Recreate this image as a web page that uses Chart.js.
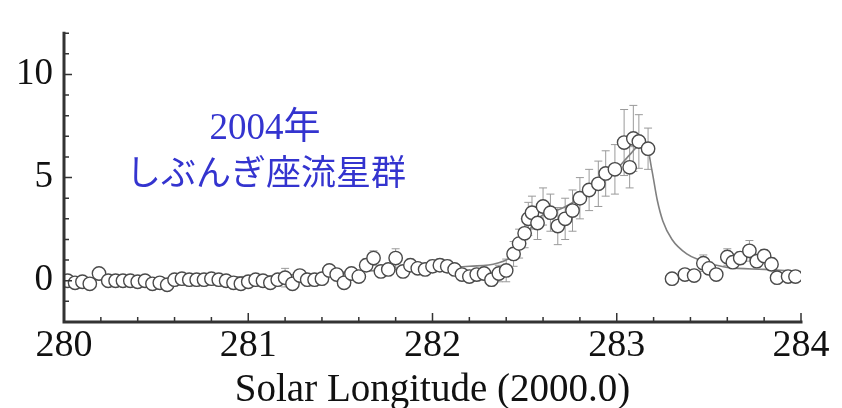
<!DOCTYPE html>
<html>
<head>
<meta charset="utf-8">
<script src="https://cdn.jsdelivr.net/npm/chart.js@4/dist/chart.umd.min.js"></script>
<style>
  html, body { margin: 0; padding: 0; background: #fff; }
  #wrap { width: 842px; height: 408px; position: relative; }
</style>
</head>
<body>
<div id="wrap"><canvas id="c"></canvas></div>
<script>
// Quadrantid meteor activity, 2004: observed rate per solar longitude bin
const solarLongitude = [
  280.02, 280.06, 280.10, 280.14, 280.19, 280.24, 280.28, 280.32, 280.36, 280.40,
  280.44, 280.48, 280.52, 280.56, 280.60, 280.64, 280.68, 280.72, 280.76, 280.80,
  280.84, 280.88, 280.92, 280.96, 281.00, 281.04, 281.08, 281.12, 281.16, 281.20,
  281.24, 281.28, 281.32, 281.36, 281.40, 281.44, 281.48, 281.52, 281.56, 281.60,
  281.64, 281.68, 281.72, 281.76, 281.80, 281.84, 281.88, 281.92, 281.96, 282.00,
  282.04, 282.08, 282.12, 282.16, 282.20, 282.24, 282.28, 282.32, 282.36, 282.40,
  282.44, 282.47, 282.50, 282.52, 282.54, 282.57, 282.60, 282.64, 282.68, 282.72,
  282.76, 282.80, 282.85, 282.90, 282.94, 282.99, 283.04, 283.07, 283.09, 283.12,
  283.17,
  283.30, 283.37, 283.42, 283.47, 283.50, 283.54, 283.60, 283.63, 283.67, 283.72,
  283.76, 283.80, 283.84, 283.87, 283.93, 283.97
];
const rate = [
  0.0, -0.1, -0.05, -0.15, 0.35, 0.0, 0.0, 0.0, 0.0, -0.05,
  0.0, -0.15, -0.1, -0.2, 0.05, 0.1, 0.05, 0.05, 0.05, 0.1,
  0.05, 0.0, -0.1, -0.15, -0.05, 0.05, 0.0, -0.1, 0.05, 0.15,
  -0.15, 0.25, 0.05, 0.05, 0.1, 0.5, 0.3, -0.1, 0.35, 0.2,
  0.75, 1.1, 0.45, 0.55, 1.1, 0.45, 0.75, 0.6, 0.55, 0.7,
  0.75, 0.7, 0.55, 0.3, 0.2, 0.3, 0.35, 0.05, 0.35, 0.5,
  1.3, 1.8, 2.3, 3.0, 3.3, 2.8, 3.6, 3.3, 2.65, 3.0,
  3.4, 4.0, 4.4, 4.7, 5.2, 5.4, 6.7, 5.5, 6.9, 6.75,
  6.4,
  0.1, 0.3, 0.25, 0.85, 0.6, 0.3, 1.15, 0.9, 1.1, 1.45,
  0.95, 1.2, 0.8, 0.15, 0.2, 0.2
];
const rateError = [
  0.15, 0.15, 0.15, 0.15, 0.15, 0.15, 0.15, 0.15, 0.15, 0.15,
  0.15, 0.15, 0.15, 0.15, 0.15, 0.15, 0.15, 0.15, 0.15, 0.15,
  0.15, 0.15, 0.15, 0.15, 0.15, 0.15, 0.15, 0.15, 0.15, 0.45,
  0.15, 0.2, 0.15, 0.15, 0.15, 0.2, 0.2, 0.15, 0.2, 0.2,
  0.3, 0.35, 0.25, 0.25, 0.45, 0.25, 0.3, 0.25, 0.25, 0.3,
  0.3, 0.3, 0.25, 0.25, 0.25, 0.3, 0.3, 0.3, 0.4, 0.55,
  0.6, 0.7, 0.7, 0.8, 0.8, 0.8, 0.9, 0.9, 0.9, 1.0,
  1.0, 1.0, 1.0, 1.1, 1.1, 1.2, 1.6, 1.0, 1.6, 1.3,
  1.0,
  0.2, 0.2, 0.2, 0.4, 0.3, 0.2, 0.4, 0.3, 0.3, 0.5,
  0.3, 0.3, 0.3, 0.15, 0.15, 0.15
];

// Fitted activity profile
const modelLongitude = [
  280.0, 280.5, 281.0, 281.5, 281.8, 282.0, 282.2, 282.35, 282.45, 282.5,
  282.55, 282.6, 282.7, 282.8, 282.9, 283.0, 283.08, 283.13, 283.16, 283.19,
  283.22, 283.25, 283.3, 283.38, 283.45, 283.5, 283.6, 283.8, 284.0
];
const modelRate = [
  0.05, 0.1, 0.2, 0.4, 0.55, 0.6, 0.7, 0.85, 1.3, 2.0,
  2.8, 3.2, 3.5, 4.0, 4.6, 5.4, 6.2, 6.6, 6.6, 5.4,
  3.9, 2.9, 2.0, 1.3, 1.0, 0.85, 0.65, 0.55, 0.45
];

const xTickLabels = [280, 281, 282, 283, 284];
const yTickLabels = [0, 5, 10];
const xMinorStep = 0.2;
const yMinorStep = 1;

const annotationYear = '2004年';
const annotationName = 'しぶんぎ座流星群';

const serif = "'Liberation Serif', 'Times New Roman', serif";
const axisColor = '#333333';

const pointData = solarLongitude.map((x, i) => ({ x, y: rate[i] }));
const modelData = modelLongitude.map((x, i) => ({ x, y: modelRate[i] }));

const plotDecor = {
  id: 'plotDecor',
  beforeDatasetsDraw(chart) {
    // error bars behind the markers
    const { ctx, scales: { x, y } } = chart;
    ctx.save();
    ctx.strokeStyle = '#9a9a9a';
    ctx.lineWidth = 1;
    const cap = 4;
    solarLongitude.forEach((lon, i) => {
      const px = x.getPixelForValue(lon);
      const top = y.getPixelForValue(rate[i] + rateError[i]);
      const bot = y.getPixelForValue(rate[i] - rateError[i]);
      ctx.beginPath();
      ctx.moveTo(px, top); ctx.lineTo(px, bot);
      ctx.moveTo(px - cap, top); ctx.lineTo(px + cap, top);
      ctx.moveTo(px - cap, bot); ctx.lineTo(px + cap, bot);
      ctx.stroke();
    });
    ctx.restore();
  },
  afterDraw(chart) {
    const { ctx, chartArea: a, scales: { x, y } } = chart;
    ctx.save();
    // axis lines
    ctx.strokeStyle = axisColor;
    ctx.lineWidth = 3;
    ctx.lineCap = 'square';
    ctx.beginPath();
    ctx.moveTo(a.left, a.top);
    ctx.lineTo(a.left, a.bottom);
    ctx.lineTo(a.right, a.bottom);
    ctx.stroke();
    // inward tick marks
    ctx.lineWidth = 1.5;
    ctx.lineCap = 'butt';
    ctx.beginPath();
    for (let k = 0; ; k++) {
      const v = x.min + k * xMinorStep;
      if (v > x.max + 1e-9) break;
      const px = x.getPixelForValue(v);
      const major = xTickLabels.some(t => Math.abs(t - v) < 1e-6);
      ctx.moveTo(px, a.bottom);
      ctx.lineTo(px, a.bottom - (major ? 9 : 5));
    }
    for (let k = 0; ; k++) {
      const v = y.min + k * yMinorStep;
      if (v > y.max + 1e-9) break;
      const py = y.getPixelForValue(v);
      const major = yTickLabels.some(t => Math.abs(t - v) < 1e-6);
      ctx.moveTo(a.left, py);
      ctx.lineTo(a.left + (major ? 8 : 5), py);
    }
    ctx.stroke();
    // annotation
    ctx.fillStyle = '#3434cf';
    ctx.textAlign = 'center';
    ctx.textBaseline = 'alphabetic';
    ctx.font = "37px 'Liberation Serif', 'Noto Sans CJK JP', serif";
    ctx.fillText(annotationYear, 265, 139);
    ctx.textBaseline = 'middle';
    ctx.font = "35px 'Noto Sans CJK JP', sans-serif";
    ctx.fillText(annotationName, 266, 172);
    ctx.restore();
  }
};

new Chart(document.getElementById('c'), {
  type: 'scatter',
  data: {
    datasets: [
      {
        data: modelData,
        showLine: true,
        borderColor: '#808080',
        borderWidth: 1.6,
        pointRadius: 0,
        cubicInterpolationMode: 'monotone',
        order: 2
      },
      {
        data: pointData,
        showLine: false,
        pointRadius: 6.7,
        pointBorderWidth: 1.4,
        pointBorderColor: '#4a4a4a',
        pointBackgroundColor: '#ffffff',
        order: 1
      }
    ]
  },
  plugins: [plotDecor],
  options: {
    responsive: true,
    maintainAspectRatio: false,
    animation: false,
    events: [],
    layout: { padding: { top: 12, right: 41, left: 0, bottom: 0 } },
    plugins: { legend: { display: false }, tooltip: { enabled: false } },
    scales: {
      x: {
        type: 'linear',
        min: 280,
        max: 284,
        border: { display: false },
        grid: { display: false, drawTicks: false },
        afterBuildTicks: s => { s.ticks = xTickLabels.map(v => ({ value: v })); },
        afterFit: s => { s.height = 86; },
        ticks: {
          padding: 1,
          color: '#111',
          font: { family: serif, size: 38 },
          maxRotation: 0,
          callback: v => String(v)
        },
        title: {
          display: true,
          text: 'Solar Longitude (2000.0)',
          color: '#111',
          padding: { top: 0, bottom: 0 },
          font: { family: serif, size: 39, lineHeight: 0.9 }
        }
      },
      y: {
        min: -2,
        max: 12,
        border: { display: false },
        grid: { display: false, drawTicks: false },
        afterBuildTicks: s => { s.ticks = yTickLabels.map(v => ({ value: v })); },
        afterFit: s => { s.width = 64; },
        ticks: {
          padding: 11,
          color: '#111',
          font: { family: serif, size: 37 },
          callback: v => String(v)
        }
      }
    }
  }
});
</script>
</body>
</html>
